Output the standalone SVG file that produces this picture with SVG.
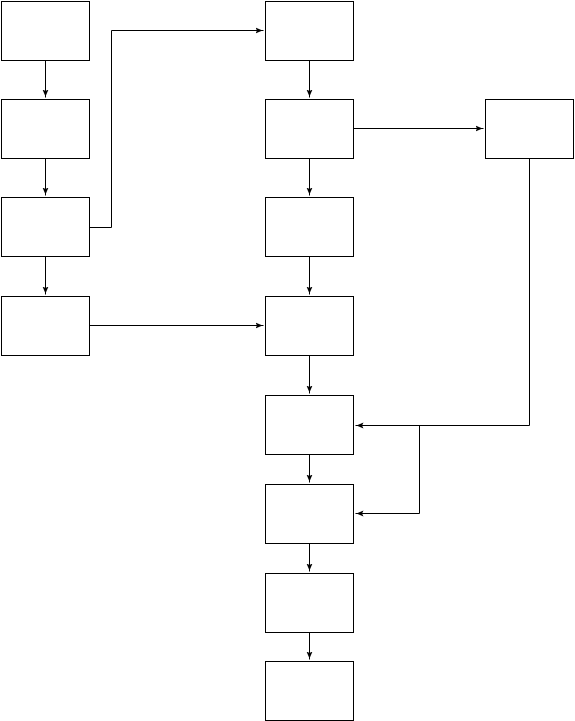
<svg xmlns="http://www.w3.org/2000/svg" width="575" height="721" viewBox="0 0 575 721">
<defs>
<style>
.box{fill:#fff;stroke:#000;stroke-width:1}
.ln{fill:none;stroke:#000;stroke-width:1}
</style>
<marker id="ah" markerWidth="8" markerHeight="8" refX="8" refY="4" orient="auto" markerUnits="userSpaceOnUse">
<path d="M0,1 L7,4 L0,7 L1.5,4 Z" fill="#000"/>
</marker>
</defs>
<rect width="575" height="721" fill="#fff"/>
<g id="connectors">
<path class="ln" d="M45.5,60.5 V97.5" marker-end="url(#ah)"/>
<path class="ln" d="M45.5,158.5 V195.5" marker-end="url(#ah)"/>
<path class="ln" d="M45.5,256.5 V294.5" marker-end="url(#ah)"/>
<path class="ln" d="M89.5,227.5 H111.5 V30.5 H263.5" marker-end="url(#ah)"/>
<path class="ln" d="M89.5,325.5 H263.5" marker-end="url(#ah)"/>
<path class="ln" d="M309.5,60.5 V97.5" marker-end="url(#ah)"/>
<path class="ln" d="M353.5,128.5 H483.5" marker-end="url(#ah)"/>
<path class="ln" d="M309.5,158.5 V195.5" marker-end="url(#ah)"/>
<path class="ln" d="M309.5,256.5 V294.5" marker-end="url(#ah)"/>
<path class="ln" d="M309.5,355.5 V393.5" marker-end="url(#ah)"/>
<path class="ln" d="M529.5,158.5 V425.5 H355.5" marker-end="url(#ah)"/>
<path class="ln" d="M419.5,425.5 V513.5 H355.5" marker-end="url(#ah)"/>
<path class="ln" d="M309.5,454.5 V482.5" marker-end="url(#ah)"/>
<path class="ln" d="M309.5,543.5 V571.5" marker-end="url(#ah)"/>
<path class="ln" d="M309.5,632.5 V659.5" marker-end="url(#ah)"/>
</g>
<g id="n1"><rect class="box" x="1.5" y="1.5" width="88" height="59"/></g>
<g id="n2"><rect class="box" x="1.5" y="99.5" width="88" height="59"/></g>
<g id="n3"><rect class="box" x="1.5" y="197.5" width="88" height="59"/></g>
<g id="n4"><rect class="box" x="1.5" y="296.5" width="88" height="59"/></g>
<g id="n5"><rect class="box" x="265.5" y="1.5" width="88" height="59"/></g>
<g id="n6"><rect class="box" x="265.5" y="99.5" width="88" height="59"/></g>
<g id="n7"><rect class="box" x="485.5" y="99.5" width="88" height="59"/></g>
<g id="n8"><rect class="box" x="265.5" y="197.5" width="88" height="59"/></g>
<g id="n9"><rect class="box" x="265.5" y="296.5" width="88" height="59"/></g>
<g id="n10"><rect class="box" x="265.5" y="395.5" width="88" height="59"/></g>
<g id="n11"><rect class="box" x="265.5" y="484.5" width="88" height="59"/></g>
<g id="n12"><rect class="box" x="265.5" y="573.5" width="88" height="59"/></g>
<g id="n13"><rect class="box" x="265.5" y="661.5" width="88" height="59"/></g>
</svg>
